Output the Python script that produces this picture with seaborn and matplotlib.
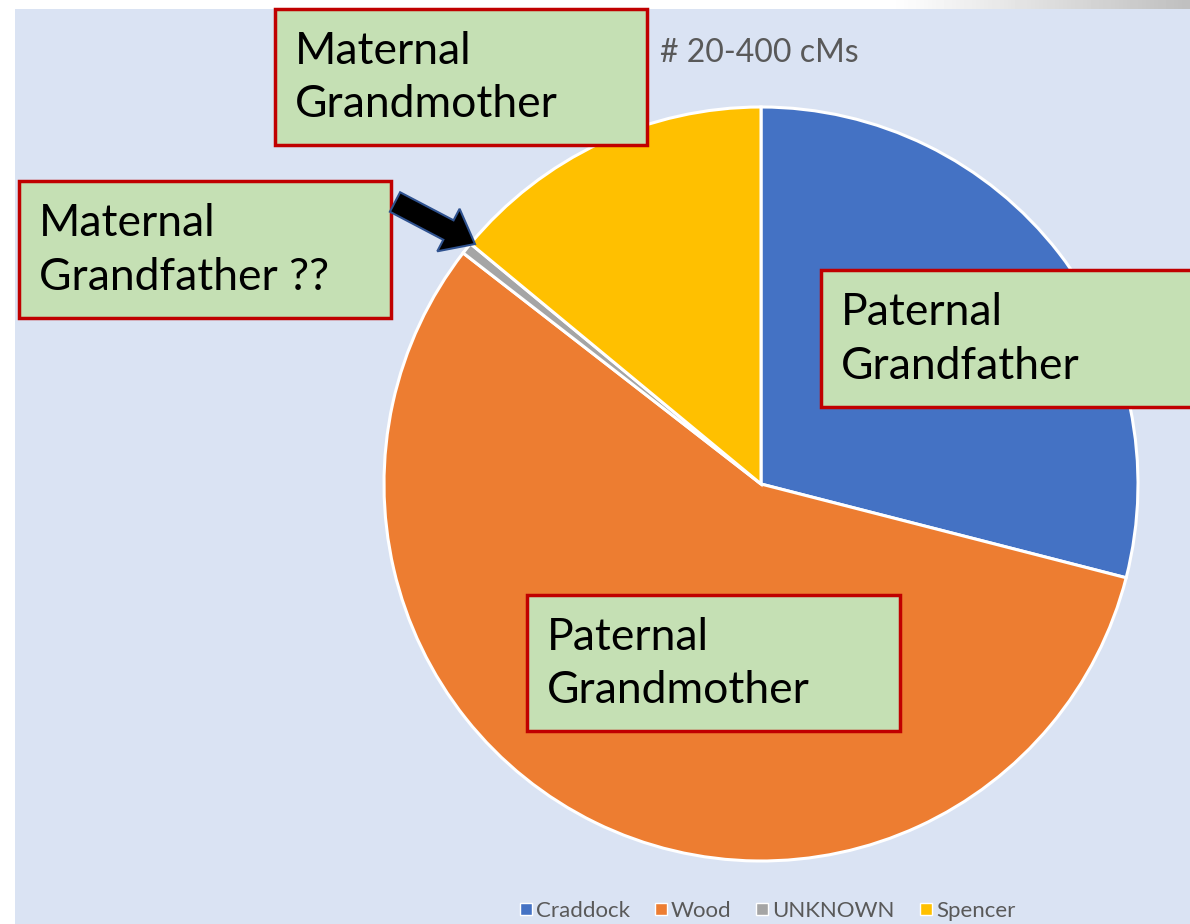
import numpy as np
import matplotlib
matplotlib.use("Agg")
import matplotlib.pyplot as plt
import matplotlib.patches as mpatches
from matplotlib.lines import Line2D
import seaborn as sns

# data
names = ["Craddock", "Wood", "UNKNOWN", "Spencer"]
matches = [58, 113, 1, 28]
colors = ["#4472c4", "#ed7d31", "#a5a5a5", "#ffc000"]
title = "# 20-400 cMs"
box_labels = ["Maternal\nGrandmother", "Maternal\nGrandfather ??",
              "Paternal\nGrandfather", "Paternal\nGrandmother"]

sns.set_style("white")
plt.rcParams["font.family"] = ["Lato", "DejaVu Sans"]

W, H = 1190, 924
fig = plt.figure(figsize=(W / 100, H / 100), dpi=100)

# background, pixel coords
bg = fig.add_axes([0, 0, 1, 1])
bg.set_xlim(0, W)
bg.set_ylim(H, 0)
bg.axis("off")
grad = np.linspace(0, 1, 300)
top_strip = np.clip((grad - 0.75) / 0.25, 0, 1)[None, :] * 0.25
bg.imshow(1 - top_strip, cmap="gray", vmin=0, vmax=1, extent=(0, W, 9, 0), aspect="auto")
bg.add_patch(mpatches.Rectangle((15, 9), W - 15, H - 9, facecolor="#dae3f3", edgecolor="none"))

# pie
cx, cy, r = 761, 484, 377
ax = fig.add_axes([(cx - r) / W, (H - cy - r) / H, 2 * r / W, 2 * r / H])
ax.pie(matches, colors=colors, startangle=90, counterclock=False,
       wedgeprops=dict(edgecolor="white", linewidth=2.2))
ax.set_xlim(-1, 1)
ax.set_ylim(-1, 1)
ax.axis("off")

# overlay for boxes, arrow, title
ov = fig.add_axes([0, 0, 1, 1])
ov.set_xlim(0, W)
ov.set_ylim(H, 0)
ov.axis("off")
ov.patch.set_alpha(0)

ov.text(660, 53, title, fontsize=23, color="#595959", va="center", ha="left")

boxes = [(275, 9, 372, 136), (19, 181, 372, 137), (821, 270, 380, 137), (527, 595, 373, 136)]
for (x, y, w, h), lab in zip(boxes, box_labels):
    ov.add_patch(mpatches.Rectangle((x, y), w, h, facecolor="#c5e0b4",
                                    edgecolor="#c00000", linewidth=2.5, clip_on=False))
    ov.text(x + 20, y + h / 2 + 1, lab, fontsize=32, color="black", va="center", ha="left",
            linespacing=1.38)

ov.add_patch(mpatches.FancyArrow(395, 202, 80, 42, width=22, head_width=48, head_length=30,
                                 length_includes_head=True, facecolor="black",
                                 edgecolor="#2f528f", linewidth=1.5))

handles = [Line2D([], [], marker="s", linestyle="none", markersize=9,
                  markerfacecolor=c, markeredgecolor="white", markeredgewidth=1) for c in colors]
leg = fig.legend(handles, names, loc="center", bbox_to_anchor=(766 / W, 1 - 911 / H), ncol=4,
                 frameon=False, fontsize=16, handletextpad=0.05, columnspacing=1.0,
                 handlelength=0.8)
for t in leg.get_texts():
    t.set_color("#595959")

fig.savefig("out.png", dpi=100)
